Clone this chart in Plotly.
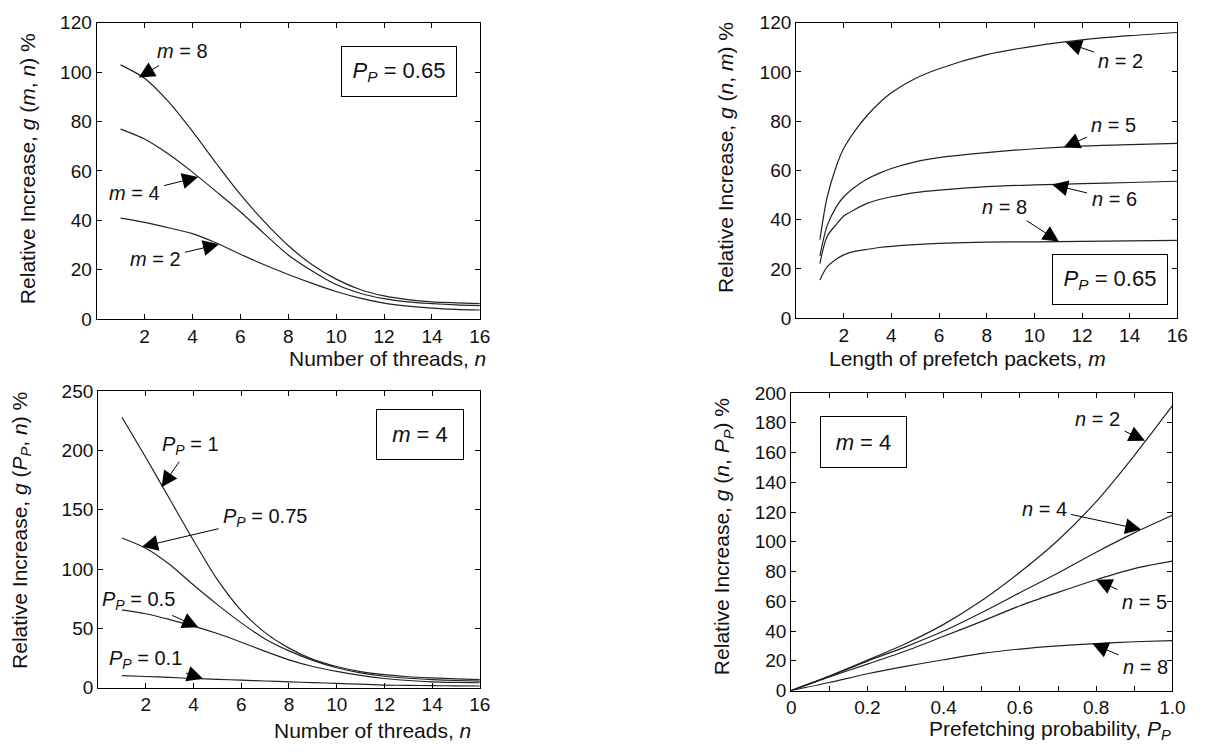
import plotly.graph_objects as go

W, H = 1213, 756
FONT = "Liberation Sans, Arial, Helvetica, sans-serif"

# ---------------- data ----------------
# Panel 1: g(m, n) vs number of threads n, P_P = 0.65
threads = list(range(1, 17))
g_m8 = [102.9, 97.5, 88.0, 76.0, 63.0, 50.5, 39.5, 29.8, 22.0, 16.2, 12.0, 9.4, 7.9, 7.0, 6.6, 6.3]
g_m4 = [76.9, 72.9, 66.8, 59.5, 51.6, 43.5, 34.6, 26.0, 19.5, 14.0, 10.5, 8.3, 7.0, 6.3, 5.8, 5.5]
g_m2 = [40.9, 39.2, 37.0, 34.6, 30.8, 26.3, 22.0, 18.1, 14.5, 11.2, 8.5, 6.5, 5.3, 4.5, 4.0, 3.7]

# Panel 2: g(n, m) vs length of prefetch packets m, P_P = 0.65
packet_len = [1, 1.3, 1.7, 2, 2.5, 3, 3.5, 4, 5, 6, 8, 10, 12, 14, 16]
g_n2 = [31.9, 49.0, 62.0, 69.0, 76.5, 82.5, 87.5, 91.5, 97.3, 101.3, 107.0, 110.5, 113.0, 114.7, 116.0]
g_n5 = [25.3, 37.5, 45.4, 49.3, 53.5, 56.6, 58.9, 60.8, 63.5, 65.2, 67.2, 68.8, 69.9, 70.5, 71.0]
g_n6 = [22.2, 33.2, 38.2, 41.5, 44.3, 46.7, 48.2, 49.3, 51.0, 52.0, 53.4, 54.1, 54.6, 55.1, 55.6]
g_n8 = [15.5, 20.8, 24.0, 25.7, 27.2, 28.0, 28.7, 29.2, 29.9, 30.4, 30.9, 31.0, 31.2, 31.4, 31.6]

# Panel 3: g(P_P, n) vs number of threads n, m = 4
g_p100 = [228, 194, 159, 124, 91, 65, 46.4, 33.3, 23.8, 17.8, 13.5, 10.9, 9.2, 8.2, 7.4, 6.8]
g_p075 = [126.2, 117.5, 103.8, 86.5, 70.0, 54.6, 41.0, 31.0, 23.0, 16.8, 12.5, 9.6, 7.9, 6.8, 6.0, 5.5]
g_p050 = [65.6, 62.3, 57.4, 51.9, 45.6, 38.3, 30.6, 23.4, 17.8, 13.7, 10.3, 7.7, 6.0, 4.9, 4.4, 4.1]
g_p010 = [10.1, 9.4, 8.6, 7.7, 7.0, 6.3, 5.6, 4.9, 4.2, 3.6, 2.9, 2.2, 1.9, 1.7, 1.5, 1.4]

# Panel 4: g(n, P_P) vs prefetching probability P_P, m = 4
prob = [0, 0.1, 0.2, 0.3, 0.4, 0.5, 0.6, 0.7, 0.8, 0.9, 1.0]
gp_n2 = [0, 9.8, 20.5, 31.5, 44.5, 60.5, 79.5, 101.0, 127.0, 158.0, 191.5]
gp_n4 = [0, 9.5, 19.8, 29.4, 40.0, 52.5, 65.8, 79.0, 93.0, 106.0, 117.8]
gp_n5 = [0, 9.2, 17.8, 26.6, 36.5, 46.5, 57.0, 66.0, 74.5, 82.0, 87.0]
gp_n8 = [0, 5.4, 11.3, 16.3, 20.7, 25.0, 27.9, 30.0, 31.6, 32.8, 33.6]

# tick labels
ticks_threads = [2, 4, 6, 8, 10, 12, 14, 16]
ticks_y120 = [0, 20, 40, 60, 80, 100, 120]
ticks_y250 = [0, 50, 100, 150, 200, 250]
ticks_y200 = list(range(0, 201, 20))
ticks_prob = [0, 0.1, 0.2, 0.3, 0.4, 0.5, 0.6, 0.7, 0.8, 0.9, 1.0]
ticktext_prob = ["0", " ", "0.2", " ", "0.4", " ", "0.6", " ", "0.8", " ", "1.0"]

# ---------------- figure ----------------
fig = go.Figure()
LINE = dict(color="#222222", width=1.2)

def add(x, y, xa, ya):
    fig.add_trace(go.Scatter(x=x, y=y, mode="lines", line=dict(LINE, shape="spline", smoothing=0.8),
                             xaxis=xa, yaxis=ya, showlegend=False, hoverinfo="skip"))

for s in (g_m8, g_m4, g_m2):
    add(threads, s, "x", "y")
for s in (g_n2, g_n5, g_n6, g_n8):
    add(packet_len, s, "x2", "y2")
for s in (g_p100, g_p075, g_p050, g_p010):
    add(threads, s, "x3", "y3")
for s in (gp_n2, gp_n4, gp_n5, gp_n8):
    add(prob, s, "x4", "y4")

def ax(domain, rng, tickvals, ticktext=None, anchor=None):
    d = dict(domain=domain, range=rng, tickvals=tickvals, showline=True, linecolor="black",
             linewidth=1, mirror="ticks", ticks="inside", ticklen=5, tickcolor="black",
             showgrid=False, zeroline=False, tickfont=dict(family=FONT, size=19, color="#111"),
             anchor=anchor, fixedrange=True)
    if ticktext is not None:
        d["ticktext"] = ticktext
    return d

def px_x(p):
    return p / W

def px_y(p):
    return 1 - p / H

layout = dict(
    width=W, height=H, margin=dict(l=0, r=0, t=0, b=0),
    paper_bgcolor="white", plot_bgcolor="white",
    font=dict(family=FONT, color="#111"),
    xaxis=ax([px_x(93), px_x(482)], [0, 16], ticks_threads, anchor="y"),
    yaxis=ax([px_y(318), px_y(13)], [0, 120], ticks_y120, anchor="x"),
    xaxis2=ax([px_x(803), px_x(1190)], [0, 16], ticks_threads, anchor="y2"),
    yaxis2=ax([px_y(317), px_y(13)], [0, 120], ticks_y120, anchor="x2"),
    xaxis3=ax([px_x(94.5), px_x(482)], [0, 16], ticks_threads, anchor="y3"),
    yaxis3=ax([px_y(697), px_y(392)], [0, 250], ticks_y250, anchor="x3"),
    xaxis4=ax([px_x(798), px_x(1185)], [0, 1], ticks_prob, ticktext_prob, anchor="y4"),
    yaxis4=ax([px_y(700), px_y(394)], [0, 200], ticks_y200, anchor="x4"),
)
fig.update_layout(**layout)

ann = []
TFONT = dict(family=FONT, size=21, color="#111")
LFONT = dict(family=FONT, size=20, color="#111")

# axis titles
def title(text, cx, cy, angle=0):
    ann.append(dict(text=text, x=px_x(cx), y=px_y(cy), xref="paper", yref="paper",
                    showarrow=False, textangle=angle, font=TFONT, xanchor="center", yanchor="middle"))

title("Relative Increase, <i>g</i> (<i>m</i>, <i>n</i>) %", 23, 163, -90)
title("Relative Increase, <i>g</i> (<i>n</i>, <i>m</i>) %", 732, 152, -90)
title("Relative Increase, <i>g</i> (<i>P<sub>P</sub></i>, <i>n</i>) %", 16, 535, -90)
title("Relative Increase, <i>g</i> (<i>n</i>, <i>P<sub>P</sub></i>) %", 729, 542, -90)
title("Number of threads, <i>n</i>", 388, 358)
title("Length of prefetch packets, <i>m</i>", 977, 358)
title("Number of threads, <i>n</i>", 373, 741)
title("Prefetching probability, <i>P<sub>P</sub></i>", 1061, 741)

# boxed parameter labels
def box(text, cx, cy, w, h):
    ann.append(dict(text=text, x=px_x(cx), y=px_y(cy), xref="paper", yref="paper",
                    showarrow=False, font=dict(family=FONT, size=22, color="#111"),
                    bordercolor="black", borderwidth=1, borderpad=2, bgcolor="white",
                    width=w, height=h, xanchor="center", yanchor="middle"))

box("<i>P<sub>P</sub></i> = 0.65", 400, 63, 110, 45)
box("<i>P<sub>P</sub></i> = 0.65", 1122, 277, 110, 45)
box("<i>m</i> = 4", 421, 437, 82, 45)
box("<i>m</i> = 4", 871, 444, 81, 46)

# arrow labels: head at data point, text offset in pixels
def arrow(text, x, y, dx, dy, xr, yr):
    ann.append(dict(text=text, x=x, y=y, xref=xr, yref=yr, ax=dx, ay=dy,
                    showarrow=True, arrowhead=2, arrowsize=3.2, arrowwidth=1,
                    arrowcolor="black", standoff=0, startstandoff=3,
                    font=LFONT, xanchor="center", yanchor="middle"))

arrow("<i>m</i> = 8", 1.76, 97.8, 44, -26, "x", "y")
arrow("<i>m</i> = 4", 4.24, 57.5, -64, 16, "x", "y")
arrow("<i>m</i> = 2", 5.11, 30.3, -64, 15, "x", "y")

arrow("<i>n</i> = 2", 11.32, 112.0, 55, 19, "x2", "y2")
arrow("<i>n</i> = 5", 11.24, 69.4, 50, -22, "x2", "y2")
arrow("<i>n</i> = 6", 10.74, 54.3, 62, 15, "x2", "y2")
arrow("<i>n</i> = 8", 11.03, 31.1, -54, -35, "x2", "y2")

arrow("<i>P<sub>P</sub></i> = 1", 2.66, 169.0, 29, -42, "x3", "y3")
arrow("<i>P<sub>P</sub></i> = 0.75", 1.84, 118.8, 123, -29, "x3", "y3")
arrow("<i>P<sub>P</sub></i> = 0.5", 4.2, 51.0, -60, -27, "x3", "y3")
arrow("<i>P<sub>P</sub></i> = 0.1", 4.4, 7.5, -58, -19, "x3", "y3")

arrow("<i>n</i> = 2", 0.928, 168.0, -47, -22, "x4", "y4")
arrow("<i>n</i> = 4", 0.918, 108.2, -97, -21, "x4", "y4")
arrow("<i>n</i> = 5", 0.80, 74.5, 48, 22, "x4", "y4")
arrow("<i>n</i> = 8", 0.79, 31.6, 53, 23, "x4", "y4")

fig.update_layout(annotations=ann)
fig.write_html("out.html")
